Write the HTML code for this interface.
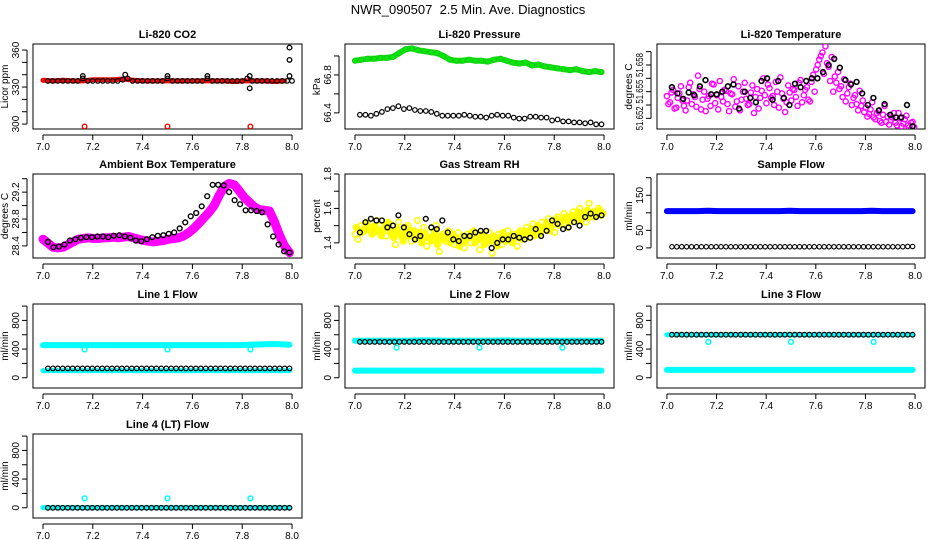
<!DOCTYPE html>
<html><head><meta charset="utf-8">
<style>
html,body{margin:0;padding:0;background:#fff;}
svg{display:block;font-family:"Liberation Sans",sans-serif;}
</style></head>
<body>
<svg id="chart" width="936" height="540" viewBox="0 0 936 540">
<text x="468" y="14" text-anchor="middle" font-size="13">NWR_090507&#160;&#160;2.5 Min. Ave. Diagnostics</text>
</svg>
<script>
// ---------- DATA ----------
const xTicks=[7.0,7.2,7.4,7.6,7.8,8.0];
const xTickLabels=["7.0","7.2","7.4","7.6","7.8","8.0"];
const outlierTimes=[7.167,7.5,7.833];

const co2Red=[335.5,335,335.5,335,335,336,336,336,336.5,335.5,335,335,335,335,335,335,335,335,335,334.5,335,335,335,334.5,335];
const co2RedOut=[298,298,298];
const co2Black=[335,335,335,335,335,335,335,337,335,335,335,335,335,335,335,336,337,335,335,335,335,335,335,335,337,335,335,335,335,335,335,335,337,335,335,335,335,335,335,335,337,335,335,335,335,335,335,335,335,335];
const co2BlackExtraX=[7.16,7.33,7.5,7.66,7.83,7.83,7.99,7.99,7.99];
const co2BlackExtra=[339,340,339,339,339,329,339,352,362];

const presGreen=[66.95,66.96,66.97,66.97,66.98,66.98,66.99,67.03,67.07,67.08,67.06,67.05,67.04,67.03,67.00,66.96,66.95,66.95,66.96,66.95,66.95,66.94,66.96,66.97,66.95,66.93,66.92,66.93,66.90,66.91,66.89,66.88,66.87,66.86,66.85,66.86,66.84,66.83,66.84,66.83];
const presBlack=[66.38,66.38,66.37,66.39,66.41,66.44,66.45,66.47,66.44,66.45,66.43,66.42,66.42,66.41,66.39,66.37,66.37,66.37,66.37,66.38,66.37,66.36,66.36,66.35,66.37,66.38,66.37,66.37,66.35,66.34,66.34,66.36,66.36,66.35,66.35,66.32,66.33,66.31,66.31,66.30,66.30,66.29,66.30,66.28,66.28];

// Li-820 temperature, stored as offsets in 1/1000 degC above 51.650
const tempBase=51.65;
const tempMagenta=[4.5,3.8,5.2,3.2,4.8,4.0,2.9,5.5,3.6,4.4,6.8,3.0,5.0,4.2,3.4,5.8,4.6,6.2,3.9,5.1,2.8,4.7,3.3,5.6,4.1,6.0,3.5,4.9,2.6,5.3,4.3,6.5,3.7,5.4,4.5,6.1,3.2,4.8,2.7,5.7,4.0,5.2,3.4,6.3,4.6,5.5,3.9,6.9,7.5,8.6,9.4,10.1,7.8,8.9,6.7,7.2,5.6,6.4,4.8,5.9,4.3,3.6,5.1,4.0,3.2,2.5,3.8,1.9,2.8,1.5,3.4,2.2,1.8,2.6,1.2,2.0,1.4,2.3,1.0,1.6];
const tempMagenta2=[3.6,4.9,3.1,4.3,5.6,3.4,4.0,6.0,4.7,3.3,5.3,4.1,2.8,4.5,5.9,3.7,3.0,4.4,5.2,3.6,4.8,6.4,3.9,2.9,5.0,4.2,3.6,5.7,4.4,3.1,5.1,4.6,5.8,4.3,3.5,5.0,6.6,4.2,3.8,4.9,5.3,4.4,6.0,3.8,5.2,4.1,6.1,5.0,8.0,9.0,7.0,8.2,6.2,5.0,6.0,5.3,4.4,3.9,5.5,3.5,4.6,2.9,3.4,2.7,2.2,3.0,2.1,2.6,1.7,2.4,1.6,1.3,2.1,1.5,2.6,1.1,1.9,1.2,1.5,1.0];
const tempBlack=[5.5,4.8,4.2,4.9,4.6,5.6,6.3,4.7,4.7,5.0,5.6,5.8,3.1,5.0,4.3,3.8,6.2,6.5,4.1,6.2,4.3,3.5,5.9,5.5,6.2,6.5,6.5,7.2,8.0,8.7,7.7,6.3,5.8,6.1,4.8,3.5,4.3,2.9,3.6,2.4,2.1,2.1,3.5,1.1];

const ambMagenta=[28.50,28.44,28.38,28.37,28.38,28.42,28.46,28.50,28.51,28.52,28.51,28.51,28.52,28.52,28.53,28.52,28.53,28.54,28.52,28.50,28.48,28.47,28.46,28.47,28.48,28.50,28.51,28.52,28.55,28.60,28.66,28.74,28.82,28.90,29.00,29.15,29.28,29.33,29.31,29.22,29.12,29.05,28.98,28.94,28.93,28.92,28.76,28.56,28.40,28.30];
const ambBlack=[28.46,28.38,28.39,28.42,28.48,28.50,28.52,28.53,28.53,28.54,28.54,28.53,28.55,28.56,28.54,28.52,28.48,28.47,28.50,28.53,28.55,28.56,28.58,28.60,28.66,28.75,28.84,28.89,28.99,29.14,29.31,29.31,29.30,29.20,29.08,29.02,28.93,28.93,28.92,28.90,28.72,28.54,28.42,28.32,28.30];

const rhYellow=[1.45,1.42,1.50,1.47,1.52,1.49,1.46,1.53,1.50,1.48,1.44,1.51,1.47,1.39,1.52,1.48,1.45,1.50,1.41,1.47,1.53,1.44,1.49,1.38,1.46,1.43,1.50,1.35,1.45,1.41,1.47,1.43,1.39,1.46,1.42,1.37,1.45,1.40,1.47,1.43,1.36,1.44,1.40,1.46,1.34,1.42,1.45,1.39,1.43,1.47,1.41,1.45,1.38,1.47,1.44,1.49,1.43,1.51,1.47,1.45,1.52,1.48,1.54,1.50,1.46,1.55,1.52,1.57,1.49,1.54,1.58,1.53,1.60,1.56,1.52,1.63,1.57,1.55,1.60,1.56];
const rhYellow2=[1.49,1.47,1.46,1.51,1.48,1.45,1.50,1.47,1.44,1.49,1.52,1.46,1.43,1.48,1.45,1.41,1.49,1.44,1.47,1.42,1.46,1.40,1.45,1.43,1.41,1.47,1.39,1.44,1.42,1.46,1.40,1.45,1.42,1.38,1.44,1.41,1.43,1.46,1.40,1.42,1.45,1.39,1.43,1.41,1.44,1.38,1.43,1.46,1.41,1.44,1.40,1.43,1.46,1.42,1.47,1.45,1.48,1.44,1.50,1.46,1.49,1.52,1.47,1.51,1.54,1.50,1.53,1.55,1.52,1.56,1.54,1.58,1.53,1.57,1.59,1.55,1.58,1.56,1.59,1.57];
const rhBlack=[1.46,1.52,1.54,1.53,1.53,1.49,1.50,1.56,1.49,1.45,1.42,1.44,1.54,1.49,1.48,1.53,1.46,1.42,1.41,1.44,1.44,1.46,1.47,1.47,1.37,1.40,1.42,1.42,1.44,1.43,1.42,1.43,1.48,1.44,1.47,1.53,1.51,1.48,1.49,1.52,1.50,1.55,1.57,1.55,1.56];

const sampleBlue=[105,105,105,105,106,105,105,105,105,105,105,105,106,105,105,105,105,105,105,105,106,105,105,105,105];
const sampleBlack=[3,3,3,3,3,3,3,3,3,3,3,3,3,3,3,3,3,3,3,3,3,3,3,3,3,3,3,3,3,3,3,3,3,3,3,3,3,3,3,3,3,3,3,3,3,3,3,3,4,4];

const l1CyanHi=[455,455,455,455,455,455,455,455,455,455,455,455,455,455,455,455,455,455,455,455,460,465,470,470,460];
const l1CyanLo=[100,100,100,100,100,100,100,100,100,100,100,100,100,100,100,100,100,100,100,100,100,100,100,100,100];
const l1CyanOut=[395,395,395];
const l1Black=[130,130,130,130,130,130,130,130,130,130,130,130,130,130,130,130,130,130,130,130,130,130,130,130,130,130,130,130,130,130,130,130,130,130,130,130,130,130,130,130,130,130,130,130,130,130,130,130,130,130];

const l2CyanHi=[515,515,515,515,515,515,520,520,520,515,515,515,515,515,520,520,515,515,515,515,515,515,515,515,515];
const l2CyanLo=[100,100,100,100,100,100,100,100,100,100,100,100,100,100,100,100,100,100,100,100,100,100,100,100,100];
const l2CyanOut=[420,420,420];
const l2Black=[500,500,500,500,500,500,500,500,500,500,500,500,500,500,500,500,500,500,500,500,500,500,500,500,500,500,500,500,500,500,500,500,500,500,500,500,500,500,500,500,500,500,500,500,500,500,500,500,500,500];

const l3CyanHi=[600,600,600,600,600,600,600,600,600,600,600,600,600,600,600,600,600,600,600,600,600,600,600,600,600];
const l3CyanLo=[110,110,110,110,110,110,110,110,110,110,110,110,110,110,110,110,110,110,110,110,110,110,110,110,110];
const l3CyanOut=[500,500,500];
const l3Black=[600,600,600,600,600,600,600,600,600,600,600,600,600,600,600,600,600,600,600,600,600,600,600,600,600,600,600,600,600,600,600,600,600,600,600,600,600,600,600,600,600,600,600,600,600,600,600,600,600,600];

const l4Cyan=[2,2,2,2,2,2,2,2,2,2,2,2,2,2,2,2,2,2,2,2,2,2,2,2,2];
const l4CyanOut=[130,130,130];
const l4Black=[0,0,0,0,0,0,0,0,0,0,0,0,0,0,0,0,0,0,0,0,0,0,0,0,0,0,0,0,0,0,0,0,0,0,0,0,0,0,0,0,0,0,0,0,0,0,0,0,0,0];

// ---------- LAYOUT ----------
const NS="http://www.w3.org/2000/svg";
const svg=document.getElementById('chart');
function mk(tag,attrs,parent){const e=document.createElementNS(NS,tag);for(const k in attrs)e.setAttribute(k,attrs[k]);(parent||svg).appendChild(e);return e;}
const colL=[33,345,657], colR=[302,614,925];
const rowT=[44,174,304,434], rowB=[129,258,388,518];

function panel(slug,title,ylab,col,row,ylo,yhi,ticks,labels,labLen){
  const L=colL[col],R=colR[col],T=rowT[row],B=rowB[row];
  const g=mk('g',{});
  
  
  const sx=v=>L+(v-6.96)/1.08*(R-L);
  const sy=v=>B-(v-ylo)/(yhi-ylo)*(B-T);
  const t=mk('text',{x:(L+R)/2,y:T-6,'text-anchor':'middle','font-size':11,'font-weight':'bold'},g);t.textContent=title;
  
  
  const box=mk('rect',{x:L,y:T,width:R-L,height:B-T,fill:'none',stroke:'#000','stroke-width':1},g);
  
  
  const xa=mk('g',{},g);
  
  
  mk('line',{x1:sx(xTicks[0]),x2:sx(xTicks[xTicks.length-1]),y1:B+6,y2:B+6,stroke:'#000'},xa);
  xTicks.forEach((v,i)=>{mk('line',{x1:sx(v),x2:sx(v),y1:B+6,y2:B+11,stroke:'#000'},xa);
    const tl=mk('text',{x:sx(v),y:B+21,'text-anchor':'middle','font-size':10},xa);tl.textContent=xTickLabels[i];
    
    });
  const ya=mk('g',{},g);
  
  
  mk('line',{x1:L-6,x2:L-6,y1:sy(ticks[0]),y2:sy(ticks[ticks.length-1]),stroke:'#000'},ya);
  ticks.forEach((v,i)=>{const y=sy(v);mk('line',{x1:L-11,x2:L-6,y1:y,y2:y,stroke:'#000'},ya);
    if(labels[i]){const at={x:L-14,y:y,'text-anchor':'middle','font-size':10,transform:`rotate(-90 ${L-14} ${y})`};
      if(labLen){at.textLength=labLen;at.lengthAdjust='spacingAndGlyphs';}
      const tl=mk('text',at,ya);tl.textContent=labels[i];
    
    }});
  const yl=mk('text',{x:L-25,y:(T+B)/2,'text-anchor':'middle','font-size':10,transform:`rotate(-90 ${L-25} ${(T+B)/2})`},g);yl.textContent=ylab;
  
  
  const clipId='clip-'+slug;
  const cp=mk('clipPath',{id:clipId},g);mk('rect',{x:L,y:T,width:R-L,height:B-T},cp);
  const plot=mk('g',{'clip-path':`url(#${clipId})`},g);
  return {sx,sy,plot,slug};
}
function times(n,a,b){const o=[];for(let i=0;i<n;i++)o.push(a+(b-a)*i/(n-1));return o;}
function band(p,vals,a,b,color,w,name,xs){
  xs=xs||times(vals.length,a,b);
  const pts=vals.map((v,i)=>p.sx(xs[i]).toFixed(1)+','+p.sy(v).toFixed(1)).join(' ');
  const pl=mk('polyline',{points:pts,fill:'none',stroke:color,'stroke-width':w,'stroke-linejoin':'round','stroke-linecap':'round'},p.plot);
  
  
}
function dots(p,vals,a,b,color,r,sw,name,xs){
  xs=xs||times(vals.length,a,b);
  const g=mk('g',{},p.plot);
  
  
  vals.forEach((v,i)=>{const c=mk('circle',{cx:p.sx(xs[i]).toFixed(1),cy:p.sy(v).toFixed(1),r:r,fill:'none',stroke:color,'stroke-width':sw},g);
    
    });
}
const tm=a=>a.map(v=>tempBase+v/1000);

// Row 1
let p=panel('co2','Li-820 CO2','Licor ppm',0,0,296,364.9,[300,310,320,330,340,350,360],['300','','','330','','','360']);
band(p,co2Red,7.0,7.97,'#f00',5,'co2-red-band');
dots(p,co2RedOut,0,0,'#f00',2.3,1.4,'co2-red-outliers',outlierTimes);
dots(p,co2Black,7.02,8.0,'#000',2.3,1.2,'co2-black-series');
dots(p,co2BlackExtra,0,0,'#000',2.3,1.3,'co2-black-extra',co2BlackExtraX);

p=panel('pressure','Li-820 Pressure','kPa',1,0,66.23,67.126,[66.4,66.6,66.8,67.0],['66.4','','66.8','']);
band(p,presGreen,7.0,7.99,'#00ee00',6,'pressure-green-band');
dots(p,presGreen,7.0,7.99,'#30b030',2.6,0.8,'pressure-green-points');
dots(p,presBlack,7.02,7.99,'#000',2.3,1.2,'pressure-black-series');

p=panel('li820-temp','Li-820 Temperature','degrees C',2,0,51.6508,51.66036,[51.652,51.6535,51.655,51.6565,51.658,51.6595],['51.652','','51.655','','51.658',''],24);
dots(p,tm(tempMagenta),7.0,7.99,'#f0f',2.6,1.4,'temp-magenta-series');
dots(p,tm(tempMagenta2),7.006,7.996,'#f0f',2.6,1.4,'temp-magenta-series-b');
dots(p,tm(tempBlack),7.02,7.99,'#000',2.4,1.6,'temp-black-series');

// Row 2
p=panel('ambient','Ambient Box Temperature','degrees C',0,1,28.22,29.47,[28.4,28.6,28.8,29.0,29.2,29.4],['28.4','','28.8','','29.2','']);
band(p,ambMagenta,7.0,7.99,'#f0f',9,'ambient-magenta-band');
dots(p,ambBlack,7.02,7.99,'#000',2.4,1.4,'ambient-black-series');

p=panel('rh','Gas Stream RH','percent',1,1,1.312,1.8,[1.4,1.5,1.6,1.7,1.8],['1.4','','1.6','','1.8']);
dots(p,rhYellow,7.0,7.99,'#ff0',2.8,1.6,'rh-yellow-series');
dots(p,rhYellow2,7.006,7.996,'#ff0',2.8,1.6,'rh-yellow-series-b');
band(p,rhYellow2,7.006,7.996,'#ff0',6,'rh-yellow-band');
dots(p,rhBlack,7.02,7.99,'#000',2.4,1.4,'rh-black-series');

p=panel('sample-flow','Sample Flow','ml/min',2,1,-28.8,210.6,[0,50,100,150,200],['0','50','','150','']);
band(p,sampleBlue,7.0,7.99,'#00f',6,'sample-blue-band');
dots(p,sampleBlack,7.02,7.99,'#000',2.2,1.1,'sample-black-series');

// Row 3
const fT=[0,200,400,600,800,1000], fL=['0','','400','','800',''];
p=panel('line1','Line 1 Flow','ml/min',0,2,-143,1029,fT,fL);
band(p,l1CyanHi,7.0,7.99,'#0ff',6,'line1-cyan-high');
band(p,l1CyanLo,7.0,7.99,'#0ff',5,'line1-cyan-low');
dots(p,l1CyanOut,0,0,'#0ff',2.4,1.5,'line1-cyan-outliers',outlierTimes);
dots(p,l1Black,7.02,7.99,'#000',2.3,1.2,'line1-black-series');

p=panel('line2','Line 2 Flow','ml/min',1,2,-143,1029,fT,fL);
band(p,l2CyanHi,7.0,7.99,'#0ff',6,'line2-cyan-high');
band(p,l2CyanLo,7.0,7.99,'#0ff',6,'line2-cyan-low');
dots(p,l2CyanOut,0,0,'#0ff',2.4,1.5,'line2-cyan-outliers',outlierTimes);
dots(p,l2Black,7.02,7.99,'#000',2.3,1.2,'line2-black-series');

p=panel('line3','Line 3 Flow','ml/min',2,2,-143,1029,fT,fL);
band(p,l3CyanHi,7.0,7.99,'#0ff',5,'line3-cyan-high');
band(p,l3CyanLo,7.0,7.99,'#0ff',6,'line3-cyan-low');
dots(p,l3CyanOut,0,0,'#0ff',2.4,1.5,'line3-cyan-outliers',outlierTimes);
dots(p,l3Black,7.02,7.99,'#000',2.3,1.2,'line3-black-series');

// Row 4
p=panel('line4','Line 4 (LT) Flow','ml/min',0,3,-143,1029,fT,fL);
band(p,l4Cyan,7.0,7.99,'#0ff',5,'line4-cyan-band');
dots(p,l4CyanOut,0,0,'#0ff',2.4,1.5,'line4-cyan-outliers',outlierTimes);
dots(p,l4Black,7.02,7.99,'#000',2.3,1.2,'line4-black-series');
</script>
</body></html>
